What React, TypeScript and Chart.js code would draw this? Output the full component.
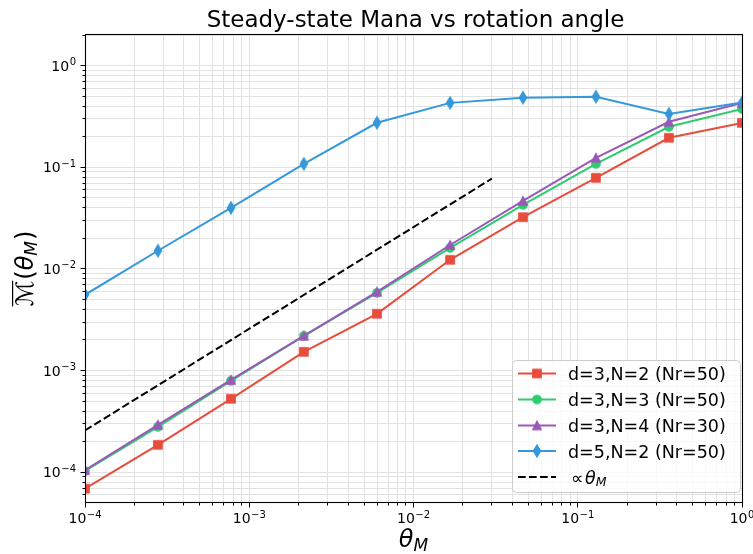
import React, { useEffect, useRef } from 'react';
import { Chart, registerables } from 'chart.js';

Chart.register(...registerables);

// ---------- data ----------
const THETA = [1e-4, 2.78e-4, 7.74e-4, 2.15e-3, 5.99e-3, 1.67e-2, 4.64e-2, 1.29e-1, 3.59e-1, 1.0];
const D3N2 = [6.9e-5, 1.86e-4, 5.28e-4, 1.53e-3, 3.62e-3, 1.23e-2, 3.23e-2, 7.87e-2, 0.195, 0.273];
const D3N3 = [1.03e-4, 2.8e-4, 7.94e-4, 2.2e-3, 5.82e-3, 1.61e-2, 4.27e-2, 0.108, 0.25, 0.375];
const D3N4 = [1.05e-4, 2.93e-4, 8.1e-4, 2.2e-3, 5.96e-3, 1.72e-2, 4.67e-2, 0.124, 0.28, 0.43];
const D5N2 = [5.57e-3, 1.51e-2, 3.99e-2, 0.108, 0.274, 0.43, 0.484, 0.495, 0.335, 0.433];
const REF_X = [1e-4, 3e-2];
const REF_Y = [2.58e-4, 7.74e-2];

const LABELS = ['d=3,N=2 (Nr=50)', 'd=3,N=3 (Nr=50)', 'd=3,N=4 (Nr=30)', 'd=5,N=2 (Nr=50)'];
const COLORS = ['#e74c3c', '#2ecc71', '#9b59b6', '#3498db'];
const MARKERS = ['square', 'circle', 'triangle', 'diamond'];

const X_MIN = 1e-4;
const X_MAX = 1;
const Y_MIN = 5.1e-5;
const Y_MAX = 2.0;
const X_MAJOR_EXP = [-4, -3, -2, -1, 0];
const Y_MAJOR_EXP = [-4, -3, -2, -1, 0];
const GRID_EXP = [-5, -4, -3, -2, -1, 0];
const GRID_MULT = [1, 2, 3, 4, 5, 6, 7, 8, 9];

const TITLE = 'Steady-state Mana vs rotation angle';
const FONT = '"DejaVu Sans", "Noto Sans", sans-serif';
const GRID_COLOR = '#e2e2e2';

function gridValues(min: number, max: number) {
  const out: { v: number; major: boolean }[] = [];
  for (const e of GRID_EXP) {
    for (const m of GRID_MULT) {
      const v = m * Math.pow(10, e);
      if (v >= min * 0.9999 && v <= max * 1.0001) out.push({ v, major: m === 1 });
    }
  }
  return out;
}

function makeMarker(kind: string, color: string): HTMLCanvasElement {
  const S = 18;
  const c = document.createElement('canvas');
  c.width = S;
  c.height = S;
  const g = c.getContext('2d')!;
  g.translate(S / 2, S / 2);
  g.fillStyle = color;
  g.strokeStyle = color;
  g.lineWidth = 1.4;
  g.lineJoin = 'miter';
  const m = 8.3;
  g.beginPath();
  if (kind === 'square') {
    g.rect(-m / 2, -m / 2, m, m);
  } else if (kind === 'circle') {
    g.arc(0, 0, m / 2, 0, Math.PI * 2);
  } else if (kind === 'triangle') {
    g.moveTo(0, -m / 2);
    g.lineTo(-m / 2, m / 2);
    g.lineTo(m / 2, m / 2);
    g.closePath();
  } else {
    const h = (m * Math.SQRT2) / 2;
    const w = 0.6 * h;
    g.moveTo(0, -h);
    g.lineTo(w, 0);
    g.lineTo(0, h);
    g.lineTo(-w, 0);
    g.closePath();
  }
  g.fill();
  g.stroke();
  return c;
}

function supStr(e: number) {
  return e < 0 ? '\u2212' + Math.abs(e) : String(e);
}

function drawPow(ctx: CanvasRenderingContext2D, e: number, x: number, baseline: number, align: 'center' | 'right') {
  ctx.textAlign = 'left';
  ctx.textBaseline = 'alphabetic';
  ctx.font = `14px ${FONT}`;
  const w1 = ctx.measureText('10').width;
  ctx.font = `10px ${FONT}`;
  const s = supStr(e);
  const w2 = ctx.measureText(s).width;
  const total = w1 + w2 + 0.5;
  const x0 = align === 'center' ? x - total / 2 : x - total;
  ctx.font = `14px ${FONT}`;
  ctx.fillText('10', x0, baseline);
  ctx.font = `10px ${FONT}`;
  ctx.fillText(s, x0 + w1 + 0.5, baseline - 5.5);
}

export default function App() {
  const ref = useRef<HTMLCanvasElement | null>(null);

  useEffect(() => {
    document.body.style.margin = '0';
    const canvas = ref.current;
    if (!canvas) return;
    const markerImgs = MARKERS.map((k, i) => makeMarker(k, COLORS[i]));
    const series = [D3N2, D3N3, D3N4, D5N2];

    const decor = {
      id: 'decor',
      afterDraw(chart: any) {
        const ctx: CanvasRenderingContext2D = chart.ctx;
        const a = chart.chartArea;
        const xs = chart.scales.x;
        const ys = chart.scales.y;
        ctx.save();

        // spines
        ctx.strokeStyle = '#000';
        ctx.lineWidth = 1.1;
        const L = Math.round(a.left) + 0.5;
        const R = Math.round(a.right) + 0.5;
        const T = Math.round(a.top) - 0.5;
        const B = Math.round(a.bottom) + 0.5;
        ctx.strokeRect(L, T, R - L, B - T);

        // ticks
        ctx.lineWidth = 1;
        ctx.beginPath();
        for (const g of gridValues(X_MIN, X_MAX)) {
          const px = Math.floor(xs.getPixelForValue(g.v)) + 0.5;
          ctx.moveTo(px, B);
          ctx.lineTo(px, B + (g.major ? 5 : 3));
        }
        for (const g of gridValues(Y_MIN, Y_MAX)) {
          const py = Math.floor(ys.getPixelForValue(g.v)) + 0.5;
          ctx.moveTo(L, py);
          ctx.lineTo(L - (g.major ? 5 : 3), py);
        }
        ctx.stroke();

        // tick labels
        ctx.fillStyle = '#000';
        for (const e of X_MAJOR_EXP) {
          const px = xs.getPixelForValue(Math.pow(10, e));
          drawPow(ctx, e, px, B + 20.5, 'center');
        }
        for (const e of Y_MAJOR_EXP) {
          const py = ys.getPixelForValue(Math.pow(10, e));
          drawPow(ctx, e, a.left - 9, py + 5, 'right');
        }

        // title
        ctx.font = `23px ${FONT}`;
        ctx.textAlign = 'center';
        ctx.textBaseline = 'alphabetic';
        ctx.fillText(TITLE, (a.left + a.right) / 2 + 2, 27);

        // x label theta_M
        ctx.textAlign = 'left';
        ctx.font = `italic 24px ${FONT}`;
        const wT = ctx.measureText('\u03b8').width;
        ctx.font = `italic 17px ${FONT}`;
        const wS = ctx.measureText('M').width;
        const cx0 = (a.left + a.right) / 2 - (wT + wS) / 2;
        ctx.font = `italic 24px ${FONT}`;
        ctx.fillText('\u03b8', cx0, 547);
        ctx.font = `italic 17px ${FONT}`;
        ctx.fillText('M', cx0 + wT, 550.5);

        // y label
        ctx.save();
        ctx.translate(33, (a.top + a.bottom) / 2);
        ctx.rotate(-Math.PI / 2);
        ctx.font = `24px ${FONT}`;
        const wM = ctx.measureText('\u2133').width;
        const wP = ctx.measureText('(').width;
        const wQ = ctx.measureText(')').width;
        ctx.font = `italic 24px ${FONT}`;
        const wTh = ctx.measureText('\u03b8').width;
        ctx.font = `italic 17px ${FONT}`;
        const wSub = ctx.measureText('M').width;
        const total = wM + 1 + wP + wTh + wSub + 1 + wQ;
        let cx = -total / 2;
        ctx.font = `24px ${FONT}`;
        ctx.fillText('\u2133', cx, 0);
        ctx.fillRect(cx, -21, wM, 1.2);
        cx += wM + 1;
        ctx.fillText('(', cx, 0);
        cx += wP;
        ctx.font = `italic 24px ${FONT}`;
        ctx.fillText('\u03b8', cx, 0);
        cx += wTh;
        ctx.font = `italic 17px ${FONT}`;
        ctx.fillText('M', cx, 3.5);
        cx += wSub + 1;
        ctx.font = `24px ${FONT}`;
        ctx.fillText(')', cx, 0);
        ctx.restore();

        // legend
        const lx = 512.5, ly = 360.5, lw = 228, lh = 132, r = 4;
        ctx.beginPath();
        ctx.moveTo(lx + r, ly);
        ctx.lineTo(lx + lw - r, ly);
        ctx.arcTo(lx + lw, ly, lx + lw, ly + r, r);
        ctx.lineTo(lx + lw, ly + lh - r);
        ctx.arcTo(lx + lw, ly + lh, lx + lw - r, ly + lh, r);
        ctx.lineTo(lx + r, ly + lh);
        ctx.arcTo(lx, ly + lh, lx, ly + lh - r, r);
        ctx.lineTo(lx, ly + r);
        ctx.arcTo(lx, ly, lx + r, ly, r);
        ctx.closePath();
        ctx.fillStyle = 'rgba(255,255,255,0.8)';
        ctx.fill();
        ctx.strokeStyle = '#cccccc';
        ctx.lineWidth = 1;
        ctx.stroke();

        const rows = [373.5, 399.5, 425.5, 451, 477];
        for (let i = 0; i < 4; i++) {
          const yy = rows[i];
          ctx.strokeStyle = COLORS[i];
          ctx.lineWidth = 2;
          ctx.setLineDash([]);
          ctx.beginPath();
          ctx.moveTo(518, yy);
          ctx.lineTo(556, yy);
          ctx.stroke();
          const img = markerImgs[i];
          ctx.drawImage(img, 537 - img.width / 2, yy - img.height / 2);
          ctx.fillStyle = '#000';
          ctx.font = `17.5px ${FONT}`;
          ctx.textAlign = 'left';
          ctx.fillText(LABELS[i], 568, yy + 6.5);
        }
        const yd = rows[4];
        ctx.strokeStyle = '#000';
        ctx.lineWidth = 2;
        ctx.setLineDash([7.7, 3.3]);
        ctx.beginPath();
        ctx.moveTo(518, yd);
        ctx.lineTo(556, yd);
        ctx.stroke();
        ctx.setLineDash([]);
        ctx.fillStyle = '#000';
        ctx.font = `17.5px ${FONT}`;
        ctx.fillText('\u221d', 571, yd + 6.5);
        ctx.font = `italic 17.5px ${FONT}`;
        ctx.fillText('\u03b8', 585, yd + 6.5);
        const wth = ctx.measureText('\u03b8').width;
        ctx.font = `italic 12.5px ${FONT}`;
        ctx.fillText('M', 585 + wth, yd + 9);

        ctx.restore();
      },
    };

    const datasets: any[] = series.map((s, i) => ({
      label: LABELS[i],
      data: THETA.map((x, j) => ({ x, y: s[j] })),
      borderColor: COLORS[i],
      backgroundColor: COLORS[i],
      borderWidth: 2,
      pointStyle: markerImgs[i],
      pointRadius: 5,
      pointHoverRadius: 5,
      clip: 0,
      order: 5 - i,
      tension: 0,
    }));
    datasets.push({
      label: 'prop',
      data: REF_X.map((x, j) => ({ x, y: REF_Y[j] })),
      borderColor: '#000',
      borderWidth: 2,
      borderDash: [7.7, 3.3],
      pointRadius: 0,
      clip: 0,
      order: 0,
    });

    const chart = new Chart(canvas, {
      type: 'line',
      data: { datasets },
      options: {
        responsive: false,
        animation: false,
        devicePixelRatio: 1,
        events: [],
        layout: { padding: { top: 35, right: 11, left: 0, bottom: 0 } },
        plugins: { legend: { display: false }, title: { display: false }, tooltip: { enabled: false } },
        scales: {
          x: {
            type: 'logarithmic',
            position: 'bottom',
            min: X_MIN,
            max: X_MAX,
            afterBuildTicks: (s: any) => {
              s.ticks = gridValues(X_MIN, X_MAX).map((g) => ({ value: g.v, major: g.major }));
            },
            afterFit: (s: any) => {
              s.height = 52;
            },
            ticks: { display: false },
            grid: { color: GRID_COLOR, lineWidth: 1, drawTicks: false },
            border: { display: false },
          },
          y: {
            type: 'logarithmic',
            position: 'left',
            min: Y_MIN,
            max: Y_MAX,
            afterBuildTicks: (s: any) => {
              s.ticks = gridValues(Y_MIN, Y_MAX).map((g) => ({ value: g.v, major: g.major }));
            },
            afterFit: (s: any) => {
              s.width = 85;
            },
            ticks: { display: false },
            grid: { color: GRID_COLOR, lineWidth: 1, drawTicks: false },
            border: { display: false },
          },
        },
      } as any,
      plugins: [decor],
    });
    return () => chart.destroy();
  }, []);

  return <canvas ref={ref} width={753} height={554} style={{ display: 'block', width: 753, height: 554 }} />;
}
